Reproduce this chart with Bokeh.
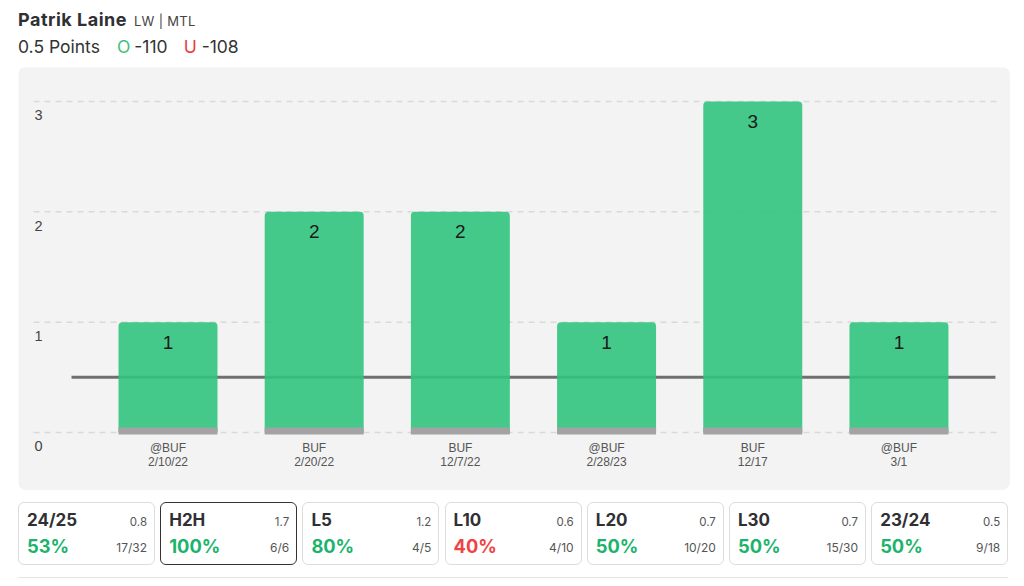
from bokeh.plotting import figure
from bokeh.models import Range1d, Div, ColumnDataSource
from bokeh.layouts import column
from bokeh.core.properties import value
from bokeh.embed import file_html
from bokeh.resources import INLINE

# ---------------- data ----------------
opponents = ["@BUF", "BUF", "BUF", "@BUF", "BUF", "@BUF"]
dates = ["2/10/22", "2/20/22", "12/7/22", "2/28/23", "12/17", "3/1"]
points = [1, 2, 2, 1, 3, 1]
prop_line = 0.5
y_ticks = [0, 1, 2, 3]

player = "Patrik Laine"
position_team = "LW | MTL"
market = "0.5 Points"
over_odds = "-110"
under_odds = "-108"

card_labels = ["24/25", "H2H", "L5", "L10", "L20", "L30", "23/24"]
card_avgs = ["0.8", "1.7", "1.2", "0.6", "0.7", "0.7", "0.5"]
card_pcts = [53, 100, 80, 40, 50, 50, 50]
card_hits = ["17/32", "6/6", "4/5", "4/10", "10/20", "15/30", "9/18"]
selected_card = "H2H"

# ---------------- styles ----------------
GREEN_BAR = "#32c47e"
GRAY_BASE = "#a3a3a3"
PANEL_BG = "#f3f3f3"
LINE_COL = "#6f6f6f"
GRID_COL = "#d9d9d9"
TXT_GREEN = "#1cb36c"
TXT_RED = "#ee4444"
CHART_FONT = value("Liberation Sans")
OFF = 18  # left offset of content on the page

xs = list(range(len(points)))
src = ColumnDataSource(dict(
    x=xs, top=points, label=[str(v) for v in points],
    opp=opponents, date=dates,
))

x_lo, x_hi = -1.0226, 5.763
p = figure(width=992, height=423,
           x_range=Range1d(x_lo, x_hi), y_range=Range1d(-0.526, 3.308),
           output_backend="svg", toolbar_location=None,
           x_axis_location=None, y_axis_location=None,
           min_border=0, background_fill_color=PANEL_BG,
           border_fill_color=PANEL_BG, outline_line_color=None,
           margin=(0, 0, 0, OFF),
           styles={"border-radius": "8px", "overflow": "hidden"})
p.xgrid.grid_line_color = None
p.ygrid.grid_line_color = None

g_lo, g_hi = x_lo + 0.103, x_hi - 0.069
p.segment(x0=[g_lo] * len(y_ticks), x1=[g_hi] * len(y_ticks),
          y0=y_ticks, y1=y_ticks, line_color=GRID_COL,
          line_width=1.5, line_dash="6 5")

p.segment(x0=[xs[0] - 0.66], x1=[xs[-1] + 0.66], y0=[prop_line], y1=[prop_line],
          line_color=LINE_COL, line_width=3)

bw = 0.677
p.vbar(x="x", top="top", bottom=0, width=bw, source=src,
       fill_color=GREEN_BAR, fill_alpha=0.9, line_color=None,
       border_radius=(4, 4, 0, 0))
p.vbar(x="x", top=0.045, bottom=-0.018, width=bw, source=src,
       fill_color=GRAY_BASE, line_color=None)

p.text(x="x", y="top", text="label", source=src, y_offset=20,
       text_align="center", text_baseline="middle",
       text_font=CHART_FONT, text_font_size="19px", text_color="#1a1a1a")

p.text(x="x", y=0, text="opp", source=src, y_offset=16,
       text_align="center", text_baseline="middle",
       text_font=CHART_FONT, text_font_size="12px", text_color="#555555")
p.text(x="x", y=0, text="date", source=src, y_offset=30,
       text_align="center", text_baseline="middle",
       text_font=CHART_FONT, text_font_size="12px", text_color="#555555")

p.text(x=[g_lo] * len(y_ticks), y=y_ticks, text=[str(t) for t in y_ticks],
       x_offset=1, y_offset=14, text_align="left", text_baseline="middle",
       text_font=CHART_FONT, text_font_size="14.5px", text_color="#444444")

# ---------------- header ----------------
header_html = f"""
<div style="position:relative;width:1024px;height:67px;font-family:Inter,sans-serif;">
  <div style="position:absolute;left:{OFF}px;top:11.2px;line-height:1;font-size:18px;font-weight:700;letter-spacing:0.5px;color:#303034;white-space:nowrap;">
    {player}<span style="font-size:13px;font-weight:400;letter-spacing:0.3px;color:#444;margin-left:7px;">{position_team}</span>
  </div>
  <div style="position:absolute;left:{OFF}px;top:37.6px;line-height:1;font-size:17.5px;font-weight:400;color:#333;white-space:nowrap;">
    {market}<span style="color:#3cc080;margin-left:17px;">O</span><span style="margin-left:4px;">{over_odds}</span><span style="color:#e53e3e;margin-left:16px;">U</span><span style="margin-left:5px;">{under_odds}</span>
  </div>
</div>
"""
header = Div(text=header_html, width=1024, height=67, margin=0)

# ---------------- cards ----------------
cards = []
for i, (lab, avg, pct, hit) in enumerate(zip(card_labels, card_avgs, card_pcts, card_hits)):
    left = OFF + i * 142.2
    border = "#333" if lab == selected_card else "#dcdcdc"
    pcol = TXT_GREEN if pct >= 50 else TXT_RED
    cards.append(f"""
  <div style="position:absolute;left:{left:.1f}px;top:12px;width:137px;height:63px;box-sizing:border-box;border:1.5px solid {border};border-radius:6px;background:#fff;">
    <div style="position:absolute;left:8px;top:9px;line-height:1;font-size:17px;font-weight:700;color:#303034;">{lab}</div>
    <div style="position:absolute;right:7px;top:13.6px;line-height:1;font-size:11.5px;color:#555;">{avg}</div>
    <div style="position:absolute;left:8px;top:33.7px;line-height:1;font-size:18.3px;font-weight:700;color:{pcol};">{pct}%</div>
    <div style="position:absolute;right:7px;top:39.1px;line-height:1;font-size:12px;color:#555;">{hit}</div>
  </div>""")
cards_html = f"""
<div style="position:relative;width:1024px;height:90px;font-family:Inter,sans-serif;">
{''.join(cards)}
  <div style="position:absolute;left:{OFF}px;top:87px;width:990px;height:1px;background:#e6e6e6;"></div>
</div>
"""
cards_div = Div(text=cards_html, width=1024, height=90, margin=0)

layout = column(header, p, cards_div, spacing=0)
open("out.html", "w").write(file_html(layout, INLINE))
